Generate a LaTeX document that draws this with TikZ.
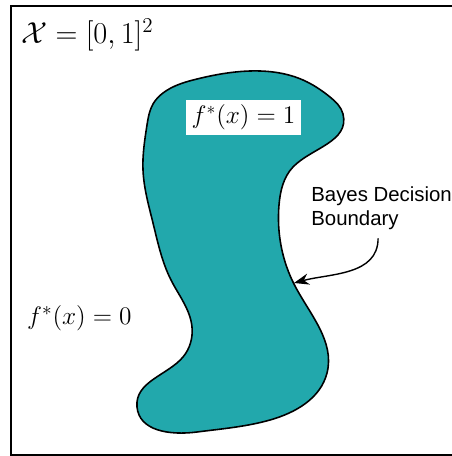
\documentclass[tikz,border=0pt]{standalone}
\usepackage{amsmath,amssymb}
\usepackage{fontspec}
\newfontfamily\lblfont{Liberation Sans}
\usepackage{tikz}
\usetikzlibrary{positioning,arrows.meta,hobby}
\definecolor{cteal}{HTML}{22A8AC}

\begin{document}
\begin{tikzpicture}[x=0.02cm, y=-0.02cm,
 region/.style={draw=black, fill=cteal, line width=0.9pt},
 mlbl/.style={inner sep=1pt, font=\fontsize{15.7}{18}\selectfont},
 tag/.style={fill=white, inner sep=3pt, font=\Large},
 note/.style={align=left, inner sep=0pt, font=\lblfont\fontsize{11.6}{13.6}\selectfont},
 a/.style={-{Stealth[length=3mm]}, draw=black, line width=0.8pt},
]
 \useasboundingbox (0,0) rectangle (452,456);
 \draw[line width=0.8pt] (11,6) rectangle (455,455);

 % the set where f^* = 1
 \path[region, use Hobby shortcut, closed=true]
  (147,125) .. (153,104) .. (163,93) .. (197,79) .. (250,71) .. (303,80)
  .. (330,97) .. (343,114) .. (293,167) .. (279,205) .. (295,286)
  .. (327,373) .. (270,420) .. (197,432) .. (137,407) .. (183,357)
  .. (192,327) .. (171,280) .. (153,223) .. (143,170);

 \node[mlbl, font=\LARGE, anchor=west] (space) at (19,35) {$\mathcal{X}=[0,1]^2$};
 \node[tag] (pos) at (243.5,117.5) {$f^*(x)=1$};
 \node[mlbl, anchor=west] (neg) at (25,318) {$f^*(x)=0$};
 \node[note, anchor=north west] (bdb) at (311,186) {Bayes Decision\\Boundary};

 \coordinate (bdry) at (294,283);
 \draw[a] ([xshift=-2pt,yshift=-5pt]bdb.south) to[out=-90, in=15] (bdry);
\end{tikzpicture}
\end{document}
